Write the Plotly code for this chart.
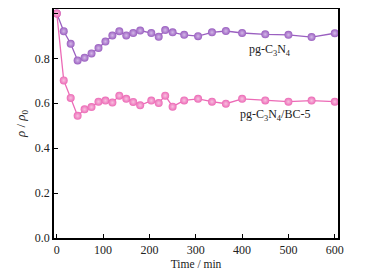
import plotly.graph_objects as go

time_min = [0, 15, 30, 45, 60, 75, 90, 105, 120, 135, 150, 165, 180, 204, 220, 234,
            250, 275, 305, 335, 365, 400, 450, 500, 550, 600]
pg_c3n4 = [1.0, 0.921, 0.865, 0.791, 0.803, 0.822, 0.846, 0.875, 0.902, 0.921, 0.902,
           0.913, 0.924, 0.913, 0.896, 0.926, 0.916, 0.905, 0.899, 0.916, 0.922, 0.913,
           0.907, 0.905, 0.895, 0.912]
pg_c3n4_bc5 = [1.0, 0.702, 0.624, 0.544, 0.573, 0.583, 0.607, 0.612, 0.603, 0.634, 0.620,
               0.606, 0.591, 0.612, 0.601, 0.634, 0.585, 0.613, 0.620, 0.607, 0.598, 0.620,
               0.613, 0.607, 0.612, 0.607]
x_ticks = [0, 100, 200, 300, 400, 500, 600]
y_ticks = [0.0, 0.2, 0.4, 0.6, 0.8, 1.0]

purple = "#9a5fc0"
pink = "#ec6ab6"
font = "Liberation Serif"
txt = "#222"

fig = go.Figure()
fig.add_trace(go.Scatter(
    x=time_min, y=pg_c3n4, mode="lines+markers",
    line=dict(color=purple, width=1.3),
    marker=dict(size=8, color=purple, gradient=dict(type="radial", color="#d4b8e8")),
    showlegend=False))
fig.add_trace(go.Scatter(
    x=time_min, y=pg_c3n4_bc5, mode="lines+markers",
    line=dict(color=pink, width=1.3),
    marker=dict(size=8, color=pink, gradient=dict(type="radial", color="#f8c0e0")),
    showlegend=False))

fig.add_annotation(x=460, y=0.837, text="pg-C<sub>3</sub>N<sub>4</sub>", showarrow=False,
                   font=dict(family=font, size=12, color=txt))
fig.add_annotation(x=471, y=0.548, text="pg-C<sub>3</sub>N<sub>4</sub>/BC-5", showarrow=False,
                   font=dict(family=font, size=12, color=txt))

axis_common = dict(showline=True, linecolor="black", linewidth=1.8, mirror=True,
                   ticks="inside", ticklen=4, tickwidth=1.2, tickcolor="black",
                   showgrid=False, zeroline=False, automargin=False,
                   tickfont=dict(family=font, size=12, color=txt))
fig.update_xaxes(range=[-6, 607], tickvals=x_ticks,
                 title=dict(text="Time / min", font=dict(family=font, size=11.5, color=txt), standoff=4),
                 **axis_common)
fig.update_yaxes(range=[0, 1.02], tickvals=y_ticks, tickformat=".1f",
                 title=dict(text="<i>ρ</i> / <i>ρ</i><sub>0</sub>", font=dict(family=font, size=13, color=txt), standoff=6),
                 **axis_common)
fig.update_layout(width=370, height=270, margin=dict(l=46, r=40, t=1, b=40),
                  plot_bgcolor="white", paper_bgcolor="white")
fig.write_html("out.html")
